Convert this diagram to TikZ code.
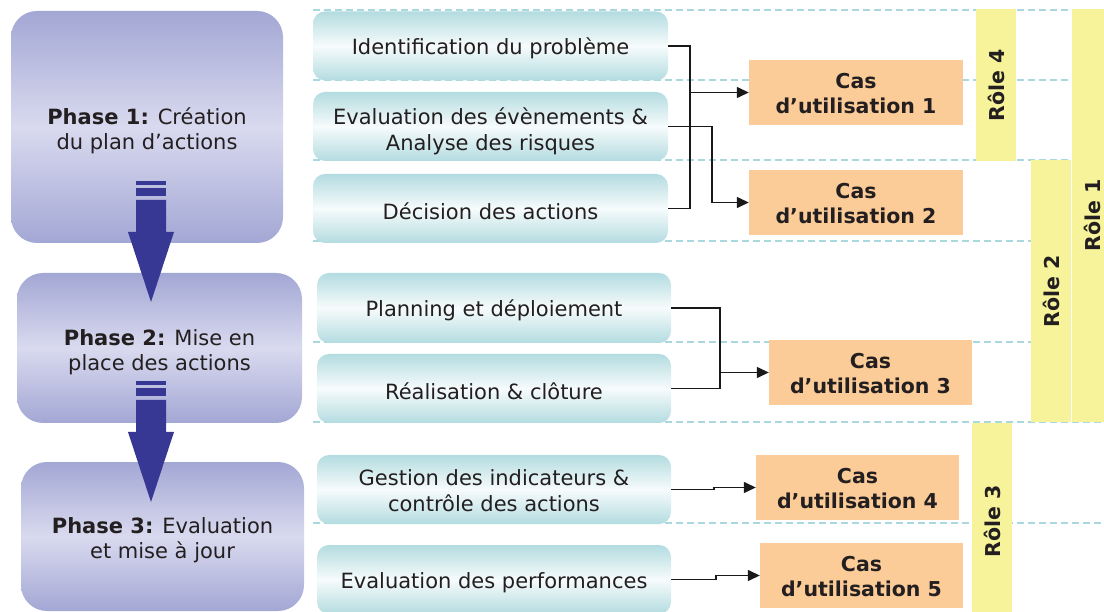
\documentclass[tikz,border=0pt]{standalone}
\usepackage{fontspec}
\setmainfont{DejaVu Sans}
\usetikzlibrary{arrows.meta}
\definecolor{phaseedge}{HTML}{A3A7D4}
\definecolor{phasemid}{HTML}{D9DAEF}
\definecolor{taskedge}{HTML}{B3DCE0}
\definecolor{taskmid}{HTML}{F7FBFC}
\definecolor{casfill}{HTML}{FBCB98}
\definecolor{rolefill}{HTML}{F7F39B}
\definecolor{gridline}{HTML}{A9D9DF}
\definecolor{arrowblue}{HTML}{363894}
\definecolor{ink}{HTML}{231F20}
\begin{document}
\begin{tikzpicture}[x=1pt,y=-1pt,>={Triangle[length=12pt 0,width=11pt 0]},
  phasebox/.style={rounded corners=26pt,top color=phaseedge,bottom color=phaseedge,middle color=phasemid,align=center,text=ink,font=\fontsize{21}{25}\selectfont,execute at begin node=\rule{0pt}{49pt}},
  taskbox/.style={rounded corners=12pt,top color=taskedge,bottom color=taskedge,middle color=taskmid,minimum width=355pt,minimum height=69pt,align=center,text=ink,font=\fontsize{21}{26}\selectfont,execute at begin node=\rule{0pt}{22pt}},
  twoline/.style={execute at begin node=\rule{0pt}{#1}},
  casbox/.style={fill=casfill,minimum height=65pt,align=center,text=ink,font=\bfseries\fontsize{20.5}{25}\selectfont,execute at begin node=\rule{0pt}{43pt}},
  rolebar/.style={fill=rolefill,rotate=90,minimum height=40pt,text=ink,font=\bfseries\fontsize{20.5}{25}\selectfont},
  link/.style={line width=1.4pt,draw=black!90},
  gridrule/.style={line width=1.3pt,draw=gridline,dash pattern=on 7pt off 4pt}]
\useasboundingbox (0,0) rectangle (1104,612);
\foreach \gy in {10,80,160,241,342,422,523}
  \draw[gridrule] (313,\gy) -- (1104,\gy);
\node (p1) at (147,127) [phasebox,minimum width=272pt,minimum height=232pt] {\textbf{Phase 1:} Création\\du plan d’actions};
\node (p2) at (159.5,348) [phasebox,minimum width=285pt,minimum height=150pt] {\textbf{Phase 2:} Mise en\\place des actions};
\node (p3) at (162.5,536.5) [phasebox,minimum width=283pt,minimum height=149pt] {\textbf{Phase 3:} Evaluation\\et mise à jour};
\foreach \ay in {181,381} {
  \fill[arrowblue] (136,\ay) rectangle (166,\ay+4);
  \fill[arrowblue] (136,\ay+7) rectangle (166,\ay+15);
  \fill[arrowblue] (136,\ay+19) -- (166,\ay+19) -- (166,\ay+51) -- (174,\ay+51) -- (151,\ay+121) -- (128,\ay+51) -- (136,\ay+51) -- cycle;
}
\node (a1) at (490.5,46) [taskbox] {Identification du problème};
\node (a2) at (490.5,126.5) [taskbox,twoline=53pt] {Evaluation des évènements \&\\Analyse des risques};
\node (a3) at (490.5,208.5) [taskbox] {Décision des actions};
\node (a4) at (494,308) [taskbox,minimum width=354pt,minimum height=70pt] {Planning et déploiement};
\node (a5) at (494,388.5) [taskbox,minimum width=354pt] {Réalisation \& clôture};
\node (a6) at (494,489.5) [taskbox,minimum width=354pt,twoline=44pt] {Gestion des indicateurs \&\\contrôle des actions};
\node (a7) at (494,579.5) [taskbox,minimum width=354pt] {Evaluation des performances};
\node (c1) at (856,92.5) [casbox,minimum width=214pt] {Cas\\d’utilisation 1};
\node (c2) at (856,202.5) [casbox,minimum width=214pt] {Cas\\d’utilisation 2};
\node (c3) at (870.5,372.5) [casbox,minimum width=203pt] {Cas\\d’utilisation 3};
\node (c4) at (857.5,487.5) [casbox,minimum width=203pt] {Cas\\d’utilisation 4};
\node (c5) at (861.5,575.5) [casbox,minimum width=203pt] {Cas\\d’utilisation 5};
\node (r4) at (996,85) [rolebar,minimum width=152pt] {Rôle 4};
\node (r1) at (1092.5,215.5) [rolebar,minimum width=413pt,minimum height=41pt] {Rôle 1};
\node (r2) at (1051,291) [rolebar,minimum width=262pt] {Rôle 2};
\node (r3) at (992,521.5) [rolebar,minimum width=197pt] {Rôle 3};
\coordinate (j1) at (690,0);
\coordinate (j2) at (712,0);
\coordinate (j3) at (720,0);
\coordinate (j4) at (714,0);
\coordinate (j5) at (716,0);
\draw[link] (a1.east) -| (j1 |- a3.east) -- (a3.east);
\draw[link,->] (j1 |- c1.west) -- (c1.west);
\draw[link,->] (a2.east) -| (j2 |- c2.west) -- (c2.west);
\draw[link] (a4.east) -| (j3 |- a5.east) -- (a5.east);
\draw[link,->] (j3 |- c3.west) -- (c3.west);
\draw[link,->] (a6.east) -| (j4 |- c4.west) -- (c4.west);
\draw[link,->] (a7.east) -| (j5 |- c5.west) -- (c5.west);
\end{tikzpicture}
\end{document}
